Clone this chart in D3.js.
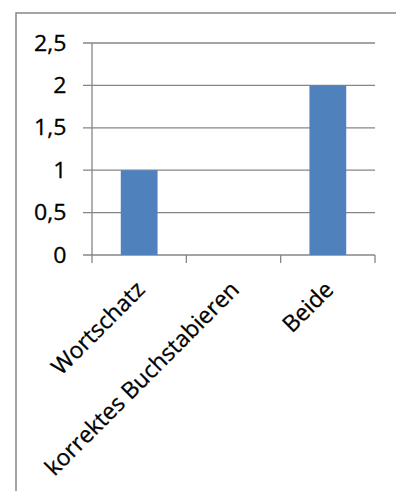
<!DOCTYPE html>
<html><head><meta charset="utf-8">
<script src="https://cdn.jsdelivr.net/npm/d3@7"></script>
<style>html,body{margin:0;padding:0;background:#fff;}svg{display:block;}</style>
</head><body>
<script>
const categories = ["Wortschatz", "korrektes Buchstabieren", "Beide"];
const values = [1, 0, 2];
const yTicks = [0, 0.5, 1, 1.5, 2, 2.5];
const yTickLabels = ["0", "0,5", "1", "1,5", "2", "2,5"];

(function(){
const W = 396, H = 491;
const svg = d3.select("body").append("svg").attr("width", W).attr("height", H);
svg.append("rect").attr("width", W).attr("height", H).attr("fill", "#fff");

svg.append("rect").attr("x", 16).attr("y", 13).attr("width", 400).attr("height", 500)
  .attr("fill", "none").attr("stroke", "#868686").attr("stroke-width", 1.5);

const pLeft = 92, pRight = 375, pTop = 43, pBottom = 255;
const x = d3.scaleBand().domain(categories).range([pLeft, pRight]).paddingInner(0).paddingOuter(0);
const y = d3.scaleLinear().domain([0, 2.5]).range([pBottom, pTop]);
const grid = "#868686";

svg.append("g").selectAll("line").data(yTicks).join("line")
  .attr("x1", pLeft - 9).attr("x2", pRight)
  .attr("y1", d => y(d)).attr("y2", d => y(d))
  .attr("stroke", grid).attr("stroke-width", 1.3);

svg.append("line").attr("x1", pLeft).attr("x2", pLeft).attr("y1", pTop).attr("y2", pBottom)
  .attr("stroke", grid).attr("stroke-width", 1.3);

const xb = categories.map(c => x(c)).concat([x(categories[categories.length-1]) + x.bandwidth()]);
svg.append("g").selectAll("line").data(xb).join("line")
  .attr("x1", d => d).attr("x2", d => d).attr("y1", pBottom).attr("y2", pBottom + 8)
  .attr("stroke", grid).attr("stroke-width", 1.3);

const bw = x.bandwidth() * 0.39;
svg.append("g").selectAll("rect").data(categories).join("rect")
  .attr("x", (c) => x(c) + x.bandwidth()/2 - bw/2)
  .attr("width", bw)
  .attr("y", (c, i) => y(values[i]))
  .attr("height", (c, i) => y(0) - y(values[i]))
  .attr("fill", "#4F81BD");

svg.append("g").selectAll("text").data(yTicks).join("text")
  .attr("transform", d => `translate(66.5,${y(d)}) scale(1.1,1)`)
  .attr("text-anchor", "end").attr("dy", "0.36em")
  .attr("font-family", "Open Sans, sans-serif").attr("font-size", 21)
  .attr("fill", "#000").attr("stroke", "#000").attr("stroke-width", 0.3)
  .text((d, i) => yTickLabels[i]);

svg.append("g").selectAll("text").data(categories).join("text")
  .attr("transform", c => `translate(${x(c) + x.bandwidth()/2 + 7},291) rotate(-45)`)
  .attr("text-anchor", "end")
  .attr("font-family", "Open Sans, sans-serif").attr("font-size", 23)
  .attr("fill", "#000").attr("stroke", "#000").attr("stroke-width", 0.3)
  .text(c => c);
})();
</script>
</body></html>
